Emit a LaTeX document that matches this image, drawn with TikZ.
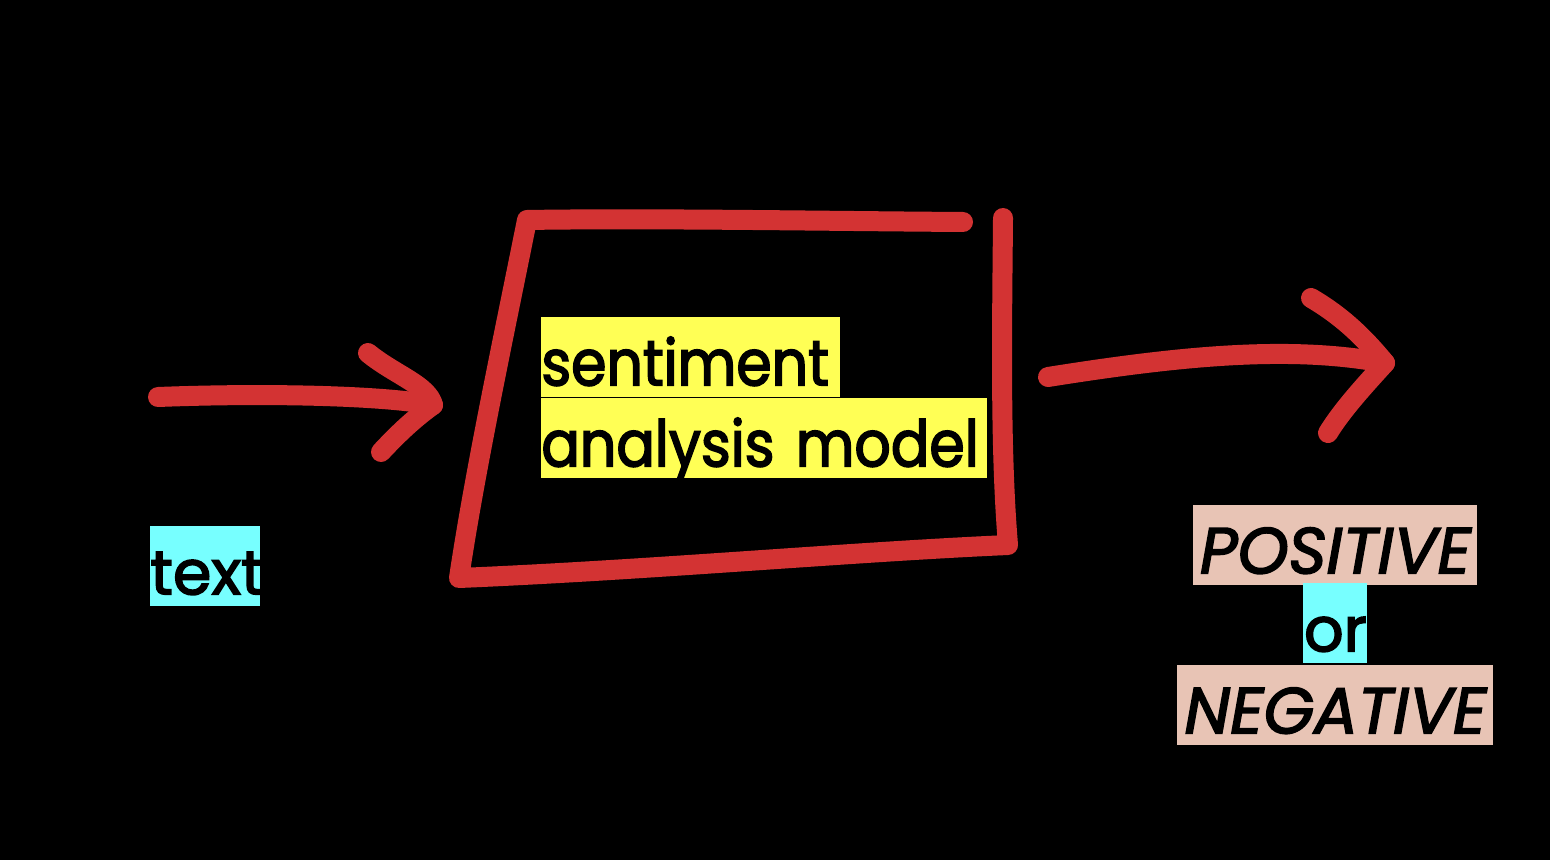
\documentclass[tikz,border=0pt]{standalone}
\usepackage{fontspec}
\usepackage{xcolor}
\usepackage{tikz}
\usetikzlibrary{positioning}
\newfontfamily\sketchfont{Poppins}[FakeStretch=0.89,FakeBold=2.5]
\newfontfamily\sketchwide{Poppins}[FakeBold=2.5]
\definecolor{markerred}{HTML}{D33333}
\definecolor{hlyellow}{HTML}{FFFF55}
\definecolor{hlcyan}{HTML}{77FFFF}
\definecolor{hlpink}{HTML}{E8C4B5}

\begin{document}
\begin{tikzpicture}[
  x=0.5pt,y=-0.5pt,
  marker/.style={draw=markerred,line width=10pt,line cap=round,line join=round},
  hl/.style={inner sep=0pt,text height=34pt,text depth=6pt,text=black,anchor=north west,
             font=\sketchfont\fontsize{32}{38}\selectfont},
  hly/.style={hl,fill=hlyellow,align=left},
  hlc/.style={hl,fill=hlcyan,align=center,font=\sketchwide\fontsize{31}{38}\selectfont},
  hlp/.style={hl,fill=hlpink,align=center,
              font=\sketchwide\itshape\fontsize{32.5}{38}\selectfont}
]
\useasboundingbox (0,0) rectangle (1550,860);
\fill[black] (0,0) rectangle (1550,860);

%------ corners of the model box ------------------------------------------
\coordinate (tr) at (963,222);
\coordinate (tl) at (527,220);
\coordinate (bl) at (459,578);
\coordinate (br) at (1008,545);
\coordinate (rt) at (1003,218);

%------ arrow ends ----------------------------------------------------------
\coordinate (inS)  at (158,397);
\coordinate (inE)  at (433,405);
\coordinate (inHa) at (368,353);
\coordinate (inHb) at (381,452);
\coordinate (outS)  at (1048,377);
\coordinate (outE)  at (1385,363);
\coordinate (outHa) at (1311,298);
\coordinate (outHb) at (1328,433);

%------ labels --------------------------------------------------------------
\node[hly,text width=149.5pt] (sent) at (541,317) {\mbox{sentiment}};
\node[hly,text width=223pt] (anal) at (541,398) {\mbox{analysis model}};
\node[hlc,text width=55pt] (txt) at (150,526) {\mbox{text}};
\node[hlp,text width=142pt] (pos) at (1193,505) {\mbox{POSITIVE}};
\node[hlc,text width=32pt] (or) at (1303,583) {\mbox{or}};
\node[hlp,text width=158pt] (neg) at (1177,665) {\mbox{NEGATIVE}};

%------ the model box -------------------------------------------------------
\draw[marker] (tr) .. controls (820,221) and (650,218) .. (tl)
  .. controls (505,330) and (475,470) .. (bl)
  .. controls (650,570) and (850,552) .. (br)
  .. controls (1000,450) and (1002,330) .. (rt);

%------ input arrow ---------------------------------------------------------
\draw[marker] (inS) .. controls (260,393) and (380,395) .. (inE);
\draw[marker] (inHa) .. controls (395,375) and (428,385) .. (inE)
  .. controls (412,420) and (395,437) .. (inHb);

%------ output arrow --------------------------------------------------------
\draw[marker] (outS) .. controls (1180,356) and (1290,345) .. (outE);
\draw[marker] (outHa) .. controls (1340,315) and (1362,335) .. (outE)
  .. controls (1365,385) and (1342,410) .. (outHb);
\end{tikzpicture}
\end{document}
